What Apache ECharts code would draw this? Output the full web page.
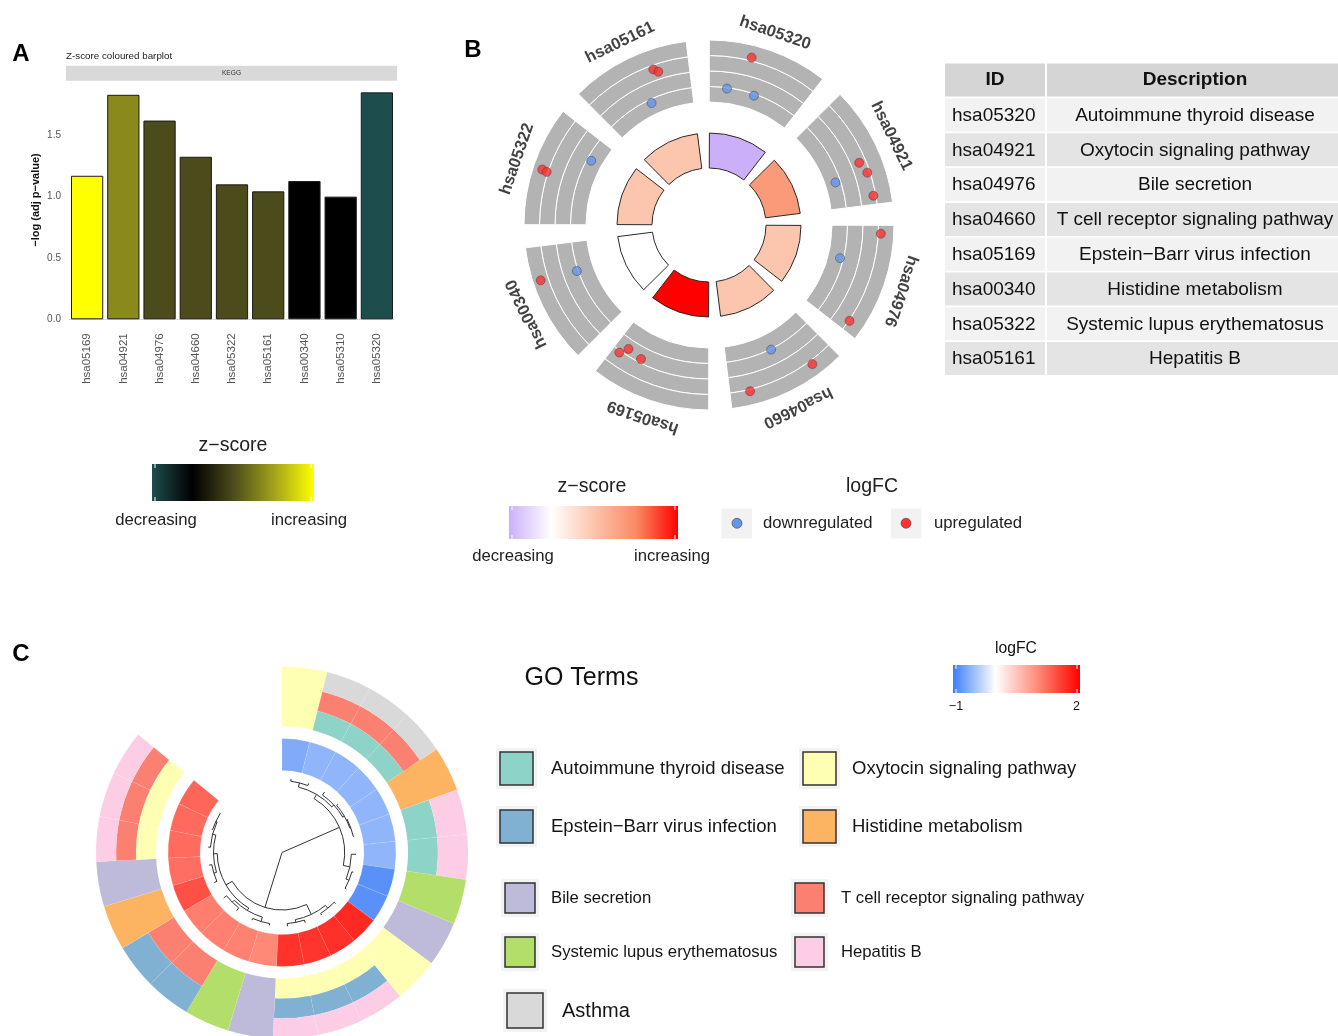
<!DOCTYPE html>
<html><head><meta charset="utf-8">
<script src="https://cdn.jsdelivr.net/npm/echarts@6/dist/echarts.min.js"></script>
<style>html,body{margin:0;padding:0;background:#fff}#c{width:1338px;height:1036px}</style>
</head><body><div id="c"></div>
<script>
// ================= DATA =================
// Panel A : z-score coloured barplot (KEGG)
const barIds = ['hsa05169','hsa04921','hsa04976','hsa04660','hsa05322','hsa05161','hsa00340','hsa05310','hsa05320'];
const barNegLogP = [1.17, 1.83, 1.62, 1.325, 1.10, 1.043, 1.127, 1.0, 1.85];
const barZ = [1.732, 1.0, 0.577, 0.577, 0.577, 0.577, 0, 0, -0.577];
const yTicksA = [0, 0.5, 1.0, 1.5];

// Panel B : GOCircle
const termIds = ['hsa05320','hsa04921','hsa04976','hsa04660','hsa05169','hsa00340','hsa05322','hsa05161'];
const termDesc = ['Autoimmune thyroid disease','Oxytocin signaling pathway','Bile secretion','T cell receptor signaling pathway','Epstein\u2212Barr virus infection','Histidine metabolism','Systemic lupus erythematosus','Hepatitis B'];
const termZ = [-0.577, 1.0, 0.577, 0.577, 1.732, 0, 0.577, 0.577];
// genes on the outer ring: angular position (deg, clockwise from top) and logFC
const geneAngleB = [14.3, 7.5, 19.2,  67.5, 71.7, 79.9, 71.4,  92.9, 104.2, 124.3,  153.5, 143.4, 166.1,  215.1, 213.0, 206.9,  251.8, 250.8,  288.4, 288.1, 298.6,  340.3, 341.7, 334.8];
const geneLogFCB = [1.86, -0.69, -0.74,  1.12, 1.42, 1.44, -0.99,  1.81, -0.87, 1.67,  -0.57, 1.90, 1.75,  0.64, 0.05, 0.23,  2.18, -0.52,  2.08, 1.72, -0.94,  1.32, 1.04, -0.89];

// Panel C : GOCluster
const goTerms = ['Autoimmune thyroid disease','Oxytocin signaling pathway','Epstein\u2212Barr virus infection','Histidine metabolism','Bile secretion','T cell receptor signaling pathway','Systemic lupus erythematosus','Hepatitis B','Asthma'];
const goColors = ['#8DD3C7','#FFFFB3','#80B1D3','#FDB462','#BEBADA','#FB8072','#B3DE69','#FCCDE5','#D9D9D9'];
const geneLogFCC = [-0.65,-0.57,-0.57,-0.57,-0.57,-0.57,-0.57,-0.85,-0.85, 1.70,1.66,1.62,1.63,1.01,1.06,1.07,1.09,1.42,1.20,1.22,1.23,1.26];
// term membership of each gene (inner -> outer), indices into goTerms
const geneTermsC = [[1],[0,5,8],[0,5,8],[0,5,8],[3],[0,7],[0,7],[6],[4],[1],[1,2,7],[1,2,7],[1,2,7],[4],[6],[5,2],[5,2],[3],[4],[1,5,7],[1,5,7],[1,5,7]];
// dendrogram (leaf numbers = gene order, last element = merge height)
const dendroTree = [
  [[[1,2,0.12],[3,[4,[5,6,0.05],0.1],0.2],0.35],[7,[8,9,0.08],0.25],0.61],
  [[[10,11,0.1],[12,13,0.15],0.3],[[[14,15,0.1],[16,17,0.2],0.35],[[18,19,0.15],[20,[21,22,0.05],0.12],0.3],0.5],0.89],
  4];

// ================= COLOURS / STYLE =================
const FONT = '"Liberation Sans", Arial, Helvetica, sans-serif';
const colA = ['#1e4d4d','#000000','#4b4b1c','#a1a11c','#ffff00'];
const colB = ['#cbb0f9','#ffffff','#fcc5ad','#fa8a64','#ff0000'];
const colC = ['#3d7ef8','#ffffff','#ff8a78','#ff0000'];
const upCol = '#ff3030', downCol = '#6495ed';

// ================= BUILD =================
const dendroNodes = [];
function layoutTree(n){
  if (typeof n === 'number') return {x: n - 0.5, h: 0};
  const l = layoutTree(n[0]), r = layoutTree(n[1]);
  dendroNodes.push([n[2], l.x, l.h, r.x, r.h]);
  return {x: (l.x + r.x) / 2, h: n[2]};
}
layoutTree(dendroTree);

const ringCData = geneLogFCC.map((v, i) => [0, i, 1, i + 1, v]);
const termCData = [];
geneTermsC.forEach((ts, i) => ts.forEach((t, j) => termCData.push([j / ts.length, i, (j + 1) / ts.length, i + 1, t])));

function stops(cols){ return cols.map((c, i) => ({offset: i / (cols.length - 1), color: c})); }
function grad(cols){ return {type:'linear', x:0, y:0, x2:1, y2:0, colorStops: stops(cols)}; }

const G = [];
function T(x, y, s, size, o){
  o = o || {};
  G.push({type:'text', x:x, y:y, rotation: o.rot || 0, z: 10, style:{text:s, fontSize:size, fontFamily:FONT, fontWeight:o.w || 'normal', fill:o.c || '#1a1a1a',
    align:o.a || 'center', textAlign:o.a || 'center', verticalAlign:'middle', textVerticalAlign:'middle'}});
}
function R(x, y, w, h, fill, o){
  o = o || {};
  G.push({type:'rect', z: o.z || 1, shape:{x:x, y:y, width:w, height:h}, style:{fill:fill, stroke:o.s || null, lineWidth:o.lw || 0}});
}
function L(x1, y1, x2, y2, c){ G.push({type:'line', z: 11, shape:{x1, y1, x2, y2}, style:{stroke:c, lineWidth:1}}); }
function barTicks(x, y, w, h){ L(x+3, y, x+3, y+4, '#fff'); L(x+3, y+h-4, x+3, y+h, '#fff'); L(x+w-3, y, x+w-3, y+4, '#fff'); L(x+w-3, y+h-4, x+w-3, y+h, '#fff'); }

// panel letters
T(21, 54, 'A', 24, {w:'bold', c:'#000'});
T(473, 50, 'B', 24, {w:'bold', c:'#000'});
T(21, 654, 'C', 24, {w:'bold', c:'#000'});

// Panel A decorations
T(66, 56.5, 'Z-score coloured barplot', 9.8, {a:'left', c:'#222'});
R(66, 65.7, 331, 15, '#d9d9d9');
T(231.5, 73.2, 'KEGG', 6.6, {c:'#333'});
// Panel A legend
T(233, 446, 'z\u2212score', 19.5, {c:'#222'});
R(152, 464, 162, 37, grad(colA));
barTicks(152, 464, 162, 37);
T(156, 520, 'decreasing', 16.7, {c:'#222'});
T(309, 520, 'increasing', 16.7, {c:'#222'});

// Panel B table
R(945, 63.5, 100, 33, '#d5d5d5');
R(1047, 63.5, 300, 33, '#d5d5d5');
T(995, 80, 'ID', 19, {w:'bold', c:'#111'});
T(1195, 80, 'Description', 19, {w:'bold', c:'#111'});
termIds.forEach((id, i) => {
  const y = 98.5 + i * 34.8, bg = i % 2 === 0 ? '#f2f2f2' : '#e4e4e4';
  R(945, y, 100, 33, bg);
  R(1047, y, 300, 33, bg);
  T(952, y + 17, id, 19, {a:'left', c:'#111'});
  T(1195, y + 17, termDesc[i], 19, {c:'#111'});
});
// Panel B legends
T(592, 487, 'z\u2212score', 19.5, {c:'#222'});
R(509, 506, 169, 33, grad(colB));
barTicks(509, 506, 169, 33);
T(513, 556, 'decreasing', 16.7, {c:'#222'});
T(672, 556, 'increasing', 16.7, {c:'#222'});
T(872, 487, 'logFC', 19.5, {c:'#222'});
R(721.5, 508.5, 30.5, 30, '#f2f2f2');
R(890.8, 508.5, 30.5, 30, '#f2f2f2');
G.push({type:'circle', z:3, shape:{cx:737, cy:523.3, r:5}, style:{fill:downCol, stroke:'#3a3a3a', lineWidth:0.6}});
G.push({type:'circle', z:3, shape:{cx:906, cy:523.3, r:5}, style:{fill:upCol, stroke:'#3a3a3a', lineWidth:0.6}});
T(763, 523.5, 'downregulated', 16.7, {a:'left', c:'#222'});
T(934, 523.5, 'upregulated', 16.7, {a:'left', c:'#222'});

// Panel C legends
T(524.5, 678.5, 'GO Terms', 25, {a:'left', c:'#111'});
T(1016, 648.5, 'logFC', 15.7, {c:'#111'});
R(953, 665, 127, 28, grad(colC));
barTicks(953, 665, 127, 28);
T(956, 707, '\u22121', 12.5, {c:'#111'});
T(1076.5, 707, '2', 12.5, {c:'#111'});
const legC = [
  [500, 752, 33, 33, 551, 768.5, 18.5], [803, 752, 33, 33, 852, 768.5, 18.5],
  [500, 810, 33, 33, 551, 826.5, 18.5], [803, 810, 33, 33, 852, 826.5, 18.5],
  [505, 883, 30, 30, 551, 898, 16.7], [795, 883, 29, 30, 841, 898, 16.7],
  [505, 937, 30, 30, 551, 952, 16.7], [795, 937, 29, 30, 841, 952, 16.7],
  [507, 993, 36, 35, 562, 1011, 20]
];
legC.forEach((p, i) => {
  R(p[0] - 4, p[1] - 4, p[2] + 8, p[3] + 8, '#f3f3f3');
  R(p[0], p[1], p[2], p[3], goColors[i], {s:'#333', lw:1.5, z:2});
  T(p[4], p[5], goTerms[i], p[6], {a:'left', c:'#151515'});
});

// ================= OPTION =================
const hidden = {axisLine:{show:false}, axisTick:{show:false}, axisLabel:{show:false}, splitLine:{show:false}, splitArea:{show:false}};
const cB = [709, 225], cC = [282, 852.5];
const option = {
  animation: false,
  backgroundColor: '#fff',
  textStyle: {fontFamily: FONT},
  grid: [{left:69, top:80.7, width:326, height:238.6}],
  xAxis: [{gridIndex:0, type:'category', data:barIds, offset:11,
    axisLine:{lineStyle:{color:'#cfcfcf', type:'dotted'}}, axisTick:{show:false},
    axisLabel:{rotate:90, fontSize:11.5, color:'#555', margin:3, interval:0}}],
  yAxis: [{gridIndex:0, type:'value', min:0, max:1.945, interval:0.5,
    axisLine:{show:false}, axisTick:{show:false}, splitLine:{show:false},
    axisLabel:{fontSize:10, color:'#555', margin:8, formatter: v => yTicksA.some(t => Math.abs(t - v) < 1e-9) ? v.toFixed(1) : ''},
    name:'\u2212log (adj p\u2212value)', nameLocation:'middle', nameGap:28,
    nameTextStyle:{fontSize:11, fontWeight:'bold', color:'#111'}}],
  polar: [
    {center:cB, radius:[57, 92]},
    {center:cB, radius:[123, 185]},
    {center:cB, radius:[123, 185]},
    {center:cB, radius:[0, 203]},
    {center:cC, radius:[0, 74]},
    {center:cC, radius:[82, 114]},
    {center:cC, radius:[126, 186]}
  ],
  angleAxis: [
    Object.assign({polarIndex:0, type:'category', data:termIds, startAngle:93.5, clockwise:true}, hidden),
    Object.assign({polarIndex:1, type:'category', data:termIds, startAngle:93.5, clockwise:true}, hidden),
    Object.assign({polarIndex:2, type:'value', min:0, max:360, startAngle:90, clockwise:true}, hidden),
    Object.assign({polarIndex:3, type:'category', data:termIds, startAngle:93.5, clockwise:true}, hidden),
    Object.assign({polarIndex:4, type:'value', min:0, max:25.6, startAngle:90, clockwise:true}, hidden),
    Object.assign({polarIndex:5, type:'value', min:0, max:25.6, startAngle:90, clockwise:true}, hidden),
    Object.assign({polarIndex:6, type:'value', min:0, max:25.6, startAngle:90, clockwise:true}, hidden)
  ],
  radiusAxis: [
    Object.assign({polarIndex:0, type:'value', min:0, max:1}, hidden),
    Object.assign({polarIndex:1, type:'value', min:0, max:4}, hidden),
    Object.assign({polarIndex:2, type:'value', min:-1.75, max:2.75}, hidden),
    Object.assign({polarIndex:3, type:'value', min:0, max:1}, hidden),
    Object.assign({polarIndex:4, type:'value', min:0, max:4, inverse:true}, hidden),
    Object.assign({polarIndex:5, type:'value', min:0, max:1}, hidden),
    Object.assign({polarIndex:6, type:'value', min:0, max:1}, hidden)
  ],
  visualMap: [
    {type:'continuous', show:false, seriesIndex:0, dimension:2, min:-0.577, max:1.732, inRange:{color:colA}},
    {type:'continuous', show:false, seriesIndex:1, dimension:2, min:-0.577, max:1.732, inRange:{color:colB}},
    {type:'continuous', show:false, seriesIndex:9, dimension:4, min:-1, max:2, inRange:{color:colC}}
  ],
  graphic: {elements: G},
  series: [
    // 0 Panel A bars
    {type:'bar', xAxisIndex:0, yAxisIndex:0, barWidth:'89%', encode:{x:0, y:1},
     data: barIds.map((id, i) => [i, barNegLogP[i], barZ[i]]),
     itemStyle:{borderColor:'#1a1a1a', borderWidth:1}},
    // 1 Panel B inner z-score ring
    {type:'bar', coordinateSystem:'polar', polarIndex:0, barWidth:'83.3%', encode:{radius:0, angle:1},
     data: termIds.map((id, i) => [1, i, termZ[i]]),
     itemStyle:{borderColor:'#2a2a2a', borderWidth:1}},
    // 2-5 Panel B grey logFC tracks
    ...[0,1,2,3].map(k => ({type:'bar', coordinateSystem:'polar', polarIndex:1, stack:'track', barWidth:'84%',
      data: termIds.map(() => 1), itemStyle:{color:'#b3b3b3', borderColor:'#ffffff', borderWidth:1}, silent:true})),
    // 6 Panel B gene points
    {type:'scatter', coordinateSystem:'polar', polarIndex:2, symbolSize:9, z:5,
     data: geneAngleB.map((a, i) => [geneLogFCB[i], a]),
     itemStyle:{color: p => p.value[0] >= 0 ? upCol : downCol, borderColor:'#3a3a3a', borderWidth:0.6}},
    // 7 Panel B segment labels
    {type:'scatter', coordinateSystem:'polar', polarIndex:3, symbolSize:1, itemStyle:{color:'rgba(0,0,0,0)'},
     data: termIds.map((id, i) => ({value:[1, i], label:{rotate: -((i + 0.5) * 45 - 3.5)}})),
     label:{show:true, position:'inside', formatter: p => termIds[p.dataIndex], fontSize:16.5, fontWeight:'bold', color:'#111', fontFamily:FONT}},
    // 8 Panel C dendrogram
    {type:'custom', coordinateSystem:'polar', polarIndex:4, data: dendroNodes,
     renderItem: (params, api) => {
       const cx = params.coordSys.cx, cy = params.coordSys.cy;
       const h = api.value(0), xl = api.value(1), hl = api.value(2), xr = api.value(3), hr = api.value(4);
       const pl = api.coord([h, xl]), pr = api.coord([h, xr]), ql = api.coord([hl, xl]), qr = api.coord([hr, xr]);
       const st = {stroke:'#333', lineWidth:1, fill:'none'};
       const ch = [
         {type:'line', shape:{x1:pl[0], y1:pl[1], x2:ql[0], y2:ql[1]}, style:st},
         {type:'line', shape:{x1:pr[0], y1:pr[1], x2:qr[0], y2:qr[1]}, style:st}
       ];
       if (pl[2] > 0.5) ch.push({type:'arc', shape:{cx:cx, cy:cy, r:pl[2], startAngle:-pl[3], endAngle:-pr[3], clockwise:true}, style:st});
       return {type:'group', children:ch};
     }},
    // 9 Panel C logFC ring
    {type:'custom', coordinateSystem:'polar', polarIndex:5, data: ringCData,
     renderItem: (params, api) => {
       const p0 = api.coord([api.value(0), api.value(1)]), p1 = api.coord([api.value(2), api.value(3)]);
       return {type:'sector', shape:{cx:params.coordSys.cx, cy:params.coordSys.cy, r0:p0[2], r:p1[2], startAngle:-p0[3], endAngle:-p1[3], clockwise:true},
         style:{fill: api.visual('color'), stroke:'rgba(255,255,255,0.2)', lineWidth:0.5}};
     }},
    // 10 Panel C term ring
    {type:'custom', coordinateSystem:'polar', polarIndex:6, data: termCData,
     renderItem: (params, api) => {
       const p0 = api.coord([api.value(0), api.value(1)]), p1 = api.coord([api.value(2), api.value(3)]);
       return {type:'sector', shape:{cx:params.coordSys.cx, cy:params.coordSys.cy, r0:p0[2], r:p1[2], startAngle:-p0[3], endAngle:-p1[3], clockwise:true},
         style:{fill: goColors[api.value(4)], stroke:'rgba(255,255,255,0.15)', lineWidth:0.5}};
     }}
  ]
};
const chart = echarts.init(document.getElementById('c'), null, {renderer:'canvas'});
chart.setOption(option);
</script>
</body></html>
